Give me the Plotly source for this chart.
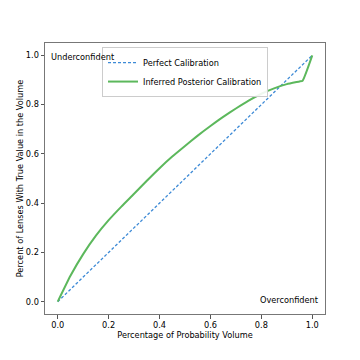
import plotly.graph_objects as go

# 較正曲線のデータ
prob_volume = [0.0, 0.05, 0.1, 0.15, 0.2, 0.25, 0.3, 0.35, 0.4, 0.45, 0.5,
               0.55, 0.6, 0.65, 0.7, 0.75, 0.8, 0.85, 0.9, 0.95, 0.962, 1.0]
frac_in_volume = [0.0, 0.105, 0.193, 0.268, 0.331, 0.386, 0.438, 0.491, 0.542, 0.589, 0.632,
                  0.674, 0.713, 0.75, 0.784, 0.816, 0.844, 0.866, 0.883, 0.894, 0.897, 1.0]
perfect = [0.0, 1.0]
tick_vals = [0.0, 0.2, 0.4, 0.6, 0.8, 1.0]
tick_text = ['0.0', '0.2', '0.4', '0.6', '0.8', '1.0']

font = dict(family='DejaVu Sans', size=8.2, color='black')

fig = go.Figure()

fig.add_trace(go.Scatter(
    x=perfect, y=perfect, mode='lines',
    name='Perfect Calibration',
    line=dict(color='#3d8ad6', width=1.3, dash='3px,2px')
))

fig.add_trace(go.Scatter(
    x=prob_volume, y=frac_in_volume, mode='lines',
    name='Inferred Posterior Calibration',
    line=dict(color='#5cb85c', width=2, shape='spline', smoothing=0.4)
))

axis_common = dict(
    range=[-0.05, 1.05],
    tickvals=tick_vals,
    ticktext=tick_text,
    ticks='outside',
    ticklen=3.5,
    tickcolor='#555',
    showline=True,
    linecolor='#777',
    linewidth=1,
    mirror=True,
    showgrid=False,
    zeroline=False,
    automargin=False,
    tickfont=font,
)

# ページ余白(8px)の分を補正
fig.update_layout(
    width=360, height=360,
    margin=dict(l=37, r=43, t=35, b=54),
    paper_bgcolor='white',
    plot_bgcolor='white',
    font=font,
    xaxis=dict(axis_common, title=dict(text='Percentage of Probability Volume', font=font, standoff=2)),
    yaxis=dict(axis_common, title=dict(text='Percent of Lenses With True Value in the Volume', font=font, standoff=0)),
    legend=dict(
        x=0.5, y=0.985, xanchor='center', yanchor='top',
        bgcolor='rgba(255,255,255,0.9)',
        bordercolor='#ccc', borderwidth=1,
        font=font,
        tracegroupgap=0,
        itemwidth=30,
    ),
    annotations=[
        dict(text='Underconfident', x=0.015, y=0.975, xref='paper', yref='paper',
             xanchor='left', yanchor='top', showarrow=False, font=font),
        dict(text='Overconfident', x=0.985, y=0.025, xref='paper', yref='paper',
             xanchor='right', yanchor='bottom', showarrow=False, font=font),
    ],
)

fig.write_html("out.html")
